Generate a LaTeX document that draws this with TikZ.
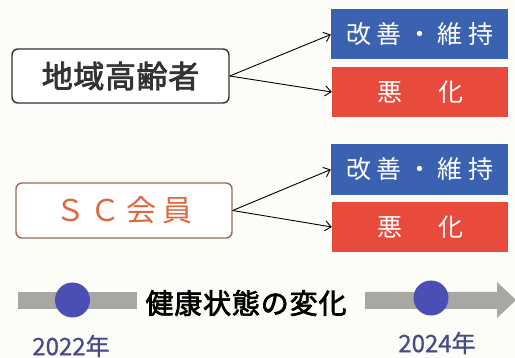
\documentclass[tikz,border=0pt]{standalone}
\usepackage{fontspec}
\newfontfamily\jp{Noto Sans CJK JP}
\newfontfamily\jpm[FakeBold=2.5]{Noto Sans CJK JP}
\usetikzlibrary{arrows.meta}
\definecolor{bgc}{HTML}{FCFCF8}
\definecolor{goodblue}{HTML}{3B62B0}
\definecolor{badred}{HTML}{E84A3C}
\definecolor{darktxt}{HTML}{333333}
\definecolor{scborder}{HTML}{9A6A58}
\definecolor{sctxt}{HTML}{E0683C}
\definecolor{bargray}{HTML}{A9A7A3}
\definecolor{dotblue}{HTML}{4B4FB5}
\definecolor{yeartxt}{HTML}{4A4A8A}
\tikzset{
  groupbox/.style={draw, rounded corners=6pt, line width=1.4pt, fill=white, inner sep=0pt},
  resbox/.style={inner sep=0pt, minimum width=177pt, minimum height=50pt, text=white,
    font=\jp\fontsize{25}{25}\selectfont\addfontfeature{LetterSpace=22}},
  conn/.style={line width=0.9pt, -{Straight Barb[length=6pt,width=10pt]}},
  dot/.style={circle, fill=dotblue, minimum size=35pt, inner sep=0pt},
  year/.style={text=yeartxt, font=\jp\fontsize{24}{24}\selectfont\addfontfeature{FakeBold=0.8}, inner sep=0pt}
}
\begin{document}
\begin{tikzpicture}[x=1pt,y=-1pt]
\useasboundingbox[fill=bgc] (0,0) rectangle (515,358);
% group boxes
\node[groupbox, draw=darktxt, minimum width=217pt, minimum height=54pt,
  text=darktxt, font=\jpm\fontsize{31}{31}\selectfont\addfontfeature{LetterSpace=2}] (g1) at (120.5,76) {地域高齢者};
\node[groupbox, draw=scborder, minimum width=216pt, minimum height=55pt,
  text=sctxt, font=\jp\fontsize{30}{30}\selectfont\addfontfeature{LetterSpace=20}] (g2) at (124,210.5) {ＳＣ会員};
% result boxes
\node[resbox, fill=goodblue] (b1) at (419.5,34.5) {改善・維持};
\node[resbox, fill=badred, minimum width=176pt] (r1) at (420,92) {悪　化};
\node[resbox, fill=goodblue, minimum height=51pt] (b2) at (419.5,169.5) {改善・維持};
\node[resbox, fill=badred, minimum width=176pt] (r2) at (420,227) {悪　化};
% connectors
\draw[conn] (g1.east) -- (b1.west);
\draw[conn] (g1.east) -- (r1.west);
\draw[conn] (g2.east) -- (b2.west);
\draw[conn] (g2.east) -- (r2.west);
% timeline
\fill[bargray] (18,292) rectangle (137,309);
\fill[bargray] (365,292) -- (497,292) -- (497,282) -- (516,300) -- (497,318) -- (497,309) -- (365,309) -- cycle;
\node[dot] (d1) at (72.5,300) {};
\node[dot] (d2) at (431,298) {};
\node[text=black, font=\jpm\fontsize{28}{28}\selectfont\addfontfeature{LetterSpace=3}, inner sep=0pt] (tl) at (246,303) {健康状態の変化};
\node[year] (y1) at (71,346) {2022年};
\node[year] (y2) at (437,343) {2024年};
\end{tikzpicture}
\end{document}
